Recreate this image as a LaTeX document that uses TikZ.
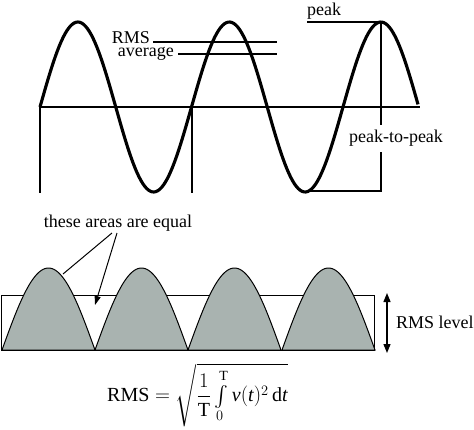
\documentclass[tikz,border=0pt]{standalone}
\usepackage{amsmath}
\usepackage{fontspec}
\setmainfont{Liberation Serif}
\usetikzlibrary{arrows.meta}
\begin{document}
\begin{tikzpicture}[x=1pt, y=-1pt]
	\tikzstyle{wave}=[line width=1.1mm]
	\tikzstyle{thin}=[line width=0.45mm]
	\tikzstyle{lbl}=[inner sep=0pt, font=\fontsize{18}{20}\selectfont]
	\tikzstyle{hump}=[fill={rgb,255:red,169;green,179;blue,176}, draw=black, line width=0.35mm]
	\useasboundingbox (0,0) rectangle (474,429);
	% Sine
	\draw[wave] plot[domain=0:378, samples=200] ({40+\x}, {107-85*sin(\x/151.5*360)});
	% Axis
	\coordinate (ax_l) at (40,107);
	\coordinate (ax_r) at (420,107);
	\draw[thin] (ax_l) -- (ax_r);
	% Period marks
	\foreach \x/\n in {40/1, 192/2} {
		\coordinate (mark_top_\n) at (\x,107);
		\coordinate (mark_bot_\n) at (\x,193);
		\draw[thin] (mark_top_\n) -- (mark_bot_\n);
	}
	% RMS and average
	\node[lbl, anchor=base east] (rms) at (150,43) {RMS};
	\node[lbl, anchor=base east] (avg) at (174,56) {average};
	\coordinate (rms_end) at (277,42);
	\coordinate (avg_end) at (277,54);
	\draw[thin] (rms.east |- rms_end) ++(3,0) -- (rms_end);
	\draw[thin] (avg.east |- avg_end) ++(4,0) -- (avg_end);
	% Peak
	\node[lbl, anchor=base west] (peak) at (307,15) {peak};
	\coordinate (crest) at (381,22);
	\coordinate (trough) at (307,191);
	\coordinate (foot) at (381,191);
	\draw[thin] (peak.west |- crest) -- (crest);
	\node[lbl, anchor=base] (p2p) at (396,142) {peak-to-peak};
	\draw[thin] (crest) -- (381,125);
	\draw[thin] (381,152) -- (foot) -- (trough);
	%---------------------%
	% RMS level box
	\coordinate (box_tl) at (1,295);
	\coordinate (box_br) at (374,350);
	\draw[line width=0.35mm] (box_tl) rectangle (box_br);
	% Humps
	\foreach \a/\n in {2/1, 95/2, 188/3, 282/4}
		\filldraw[hump] plot[domain=0:93, samples=60] ({\a+\x}, {350-82*sin(\x/93*180)}) -- cycle;
	\draw[line width=0.35mm] (box_tl |- box_br) -- (box_br);
	\coordinate (lvl_top) at (387,293);
	\coordinate (lvl_bot) at (387,353);
	\draw[thin, {Triangle[length=9pt, width=7pt]}-{Triangle[length=9pt, width=7pt]}] (lvl_top) -- (lvl_bot);
	\node[lbl, anchor=base west] (rms_lvl) at (396,328) {RMS level};
	% Equal areas
	\node[lbl, anchor=base] (equal) at (118,227) {these areas are equal};
	\coordinate (hump_pt) at (63,274);
	\coordinate (gap_pt) at (95,305);
	\draw[line width=0.35mm] (112,233) -- (hump_pt);
	\draw[line width=0.35mm, -{Triangle[length=9pt, width=6pt]}] (117,233) -- (gap_pt);
	% Formula
	\node[inner sep=0pt, anchor=west, font=\fontsize{20}{22}\selectfont] (formula) at (107,395)
		{$\mathrm{RMS}=\sqrt{\dfrac{1}{\mathrm{T}}\int\limits_0^{\mathrm{T}} \textit{v}(\textit{t})^2\,\mathrm{d}\textit{t}}$};
	%---------------------%
\end{tikzpicture}
\end{document}
